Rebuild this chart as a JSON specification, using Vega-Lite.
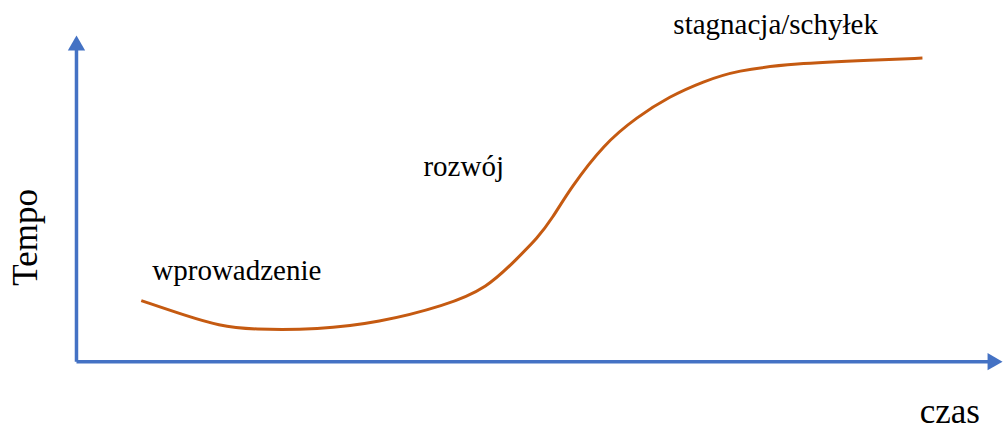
{
  "$schema": "https://vega.github.io/schema/vega-lite/v6.json",
  "width": 1003,
  "height": 430,
  "autosize": {"type": "fit", "contains": "padding"},
  "padding": 0,
  "background": "white",
  "config": {"view": {"stroke": null}},
  "datasets": {
    "curve": [
      {"czas": 7.03, "tempo": 19.09},
      {"czas": 11.89, "tempo": 14.39},
      {"czas": 15.46, "tempo": 11.32},
      {"czas": 19.02, "tempo": 10.1},
      {"czas": 26.25, "tempo": 10.1},
      {"czas": 32.73, "tempo": 12.24},
      {"czas": 39.97, "tempo": 17.46},
      {"czas": 44.61, "tempo": 22.99},
      {"czas": 47.85, "tempo": 32.2},
      {"czas": 50.01, "tempo": 38.33},
      {"czas": 51.63, "tempo": 44.47},
      {"czas": 53.57, "tempo": 53.68},
      {"czas": 57.24, "tempo": 67.49},
      {"czas": 60.81, "tempo": 75.78},
      {"czas": 64.37, "tempo": 82.23},
      {"czas": 68.04, "tempo": 86.83},
      {"czas": 71.61, "tempo": 90.21},
      {"czas": 77.76, "tempo": 92.36},
      {"czas": 86.72, "tempo": 93.43},
      {"czas": 91.8, "tempo": 94.04}
    ],
    "axes": [
      {"axis": "x", "x1": 0, "y1": 0.2, "x2": 99.0, "y2": 0.2},
      {"axis": "y", "x1": 0, "y1": 0.2, "x2": 0, "y2": 97}
    ],
    "heads": [
      {"axis": "x", "x": 99.68, "y": 0.2, "shape": "triangle-right"},
      {"axis": "y", "x": 0, "y": 98.74, "shape": "triangle-up"}
    ],
    "labels": [
      {"label": "wprowadzenie", "x": 17.4, "y": 25.44},
      {"label": "rozwój", "x": 42.02, "y": 57.67},
      {"label": "stagnacja/schyłek", "x": 75.87, "y": 101.56}
    ],
    "titles": [
      {"label": "Tempo", "x": -4.3, "y": 38.64, "angle": 270},
      {"label": "czas", "x": 94.77, "y": -18.75, "angle": 0}
    ]
  },
  "layer": [
    {
      "data": {"name": "axes"},
      "mark": {"type": "rule", "color": "#4472C4", "strokeWidth": 3.5},
      "encoding": {
        "x": {"field": "x1", "type": "quantitative", "scale": {"domain": [-8.3, 100], "nice": false, "zero": false}, "axis": null},
        "y": {"field": "y1", "type": "quantitative", "scale": {"domain": [-20, 112], "nice": false, "zero": false}, "axis": null},
        "x2": {"field": "x2"},
        "y2": {"field": "y2"}
      }
    },
    {
      "data": {"name": "heads"},
      "mark": {"type": "point", "filled": true, "color": "#4472C4", "opacity": 1, "size": 300},
      "encoding": {
        "x": {"field": "x", "type": "quantitative"},
        "y": {"field": "y", "type": "quantitative"},
        "shape": {"field": "shape", "type": "nominal", "scale": null, "legend": null}
      }
    },
    {
      "data": {"name": "curve"},
      "mark": {"type": "line", "color": "#C55A11", "strokeWidth": 3, "interpolate": "basis"},
      "encoding": {
        "x": {"field": "czas", "type": "quantitative"},
        "y": {"field": "tempo", "type": "quantitative"}
      }
    },
    {
      "data": {"name": "labels"},
      "mark": {"type": "text", "font": "Liberation Serif", "fontSize": 29, "color": "black", "align": "center", "baseline": "alphabetic"},
      "encoding": {
        "x": {"field": "x", "type": "quantitative"},
        "y": {"field": "y", "type": "quantitative"},
        "text": {"field": "label", "type": "nominal"}
      }
    },
    {
      "data": {"name": "titles"},
      "mark": {"type": "text", "font": "Liberation Serif", "fontSize": 35, "color": "black", "align": "center", "baseline": "alphabetic"},
      "encoding": {
        "x": {"field": "x", "type": "quantitative"},
        "y": {"field": "y", "type": "quantitative"},
        "angle": {"field": "angle", "type": "quantitative", "scale": null},
        "text": {"field": "label", "type": "nominal"}
      }
    }
  ]
}
